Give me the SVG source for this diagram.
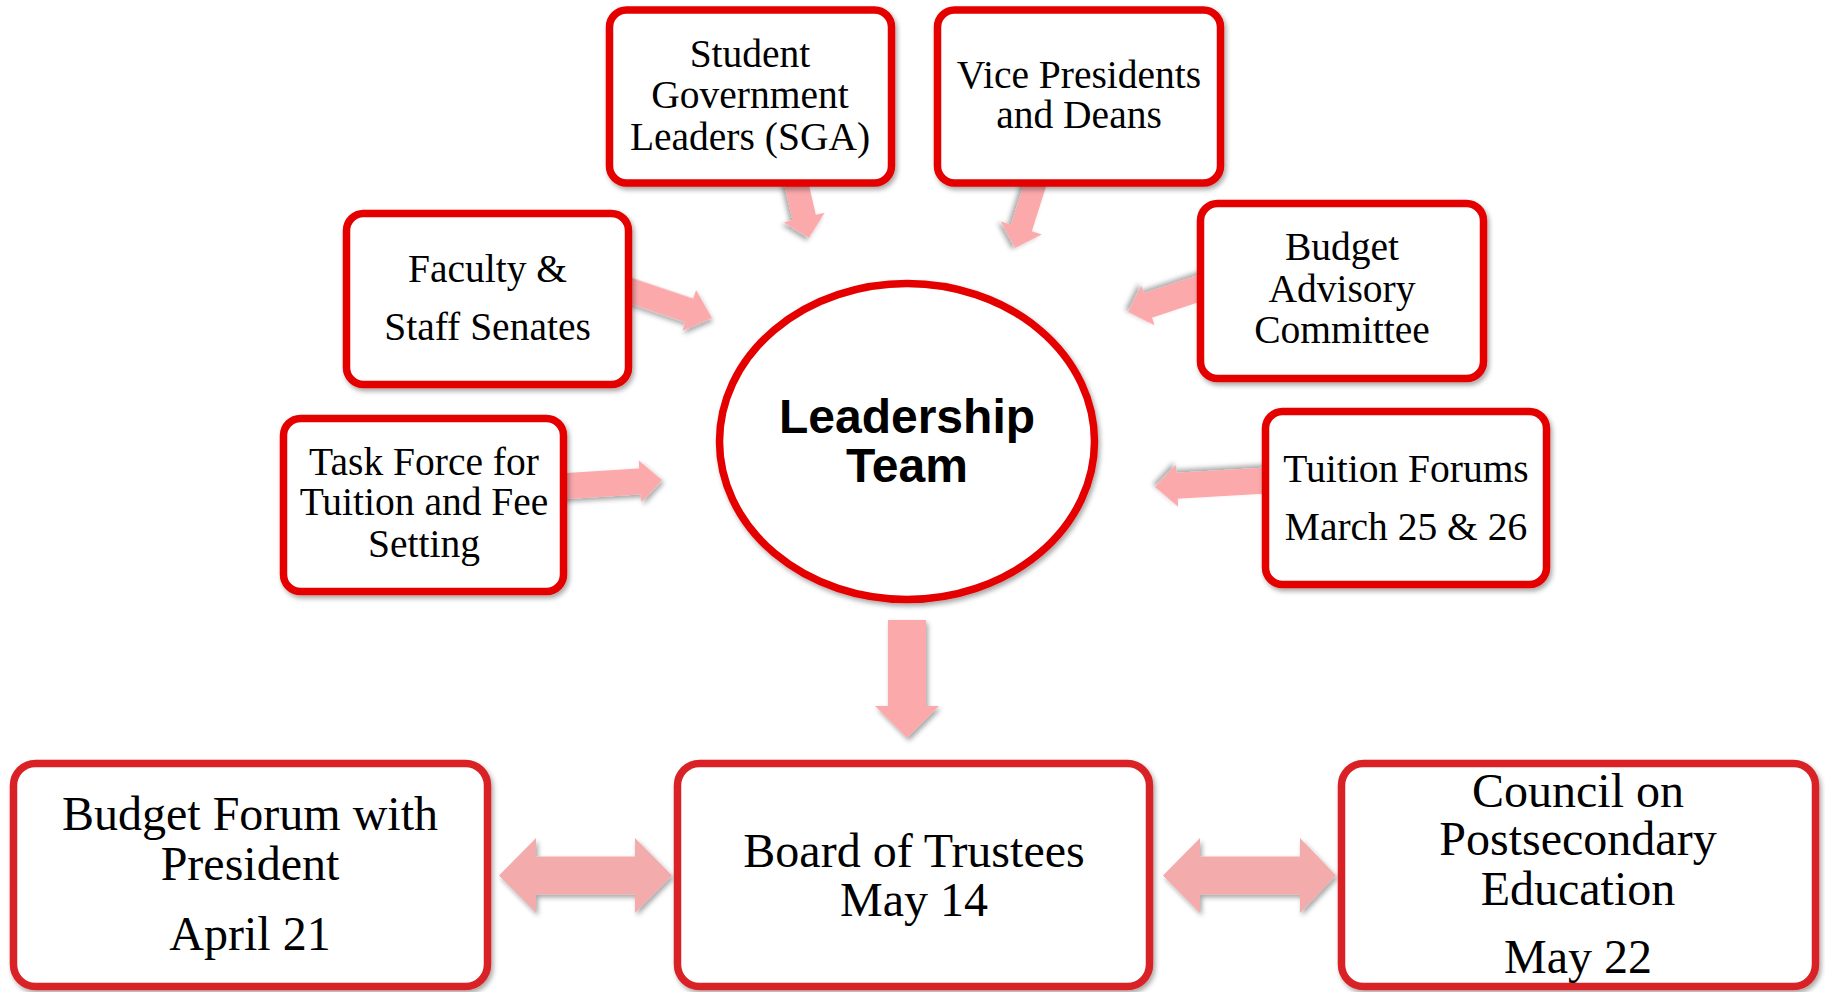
<svg xmlns="http://www.w3.org/2000/svg" width="1825" height="992" viewBox="0 0 1825 992">
<defs>
<filter id="sh" x="-20%" y="-20%" width="140%" height="140%">
<feDropShadow dx="2" dy="3" stdDeviation="2.5" flood-color="#000" flood-opacity="0.35"/>
</filter>
<style>
.box{fill:#fff;stroke:#E50000;stroke-width:7.5;filter:url(#sh)}
.bbox{fill:#fff;stroke:#D92326;stroke-width:7.5;filter:url(#sh)}
.arr{fill:#FBA9AB;filter:url(#sh)}
.darr{fill:#F4ABAB;filter:url(#sh)}
.t{font-family:"Liberation Serif","Times New Roman",serif;font-size:39.5px;fill:#000;text-anchor:middle}
.tb{font-family:"Liberation Serif","Times New Roman",serif;font-size:48px;fill:#000;text-anchor:middle}
.lt{font-family:"Liberation Sans",Arial,sans-serif;font-weight:bold;font-size:48px;fill:#000;text-anchor:middle}
</style>
</defs>
<rect width="1825" height="992" fill="#fff"/>
<g id="connectors">
<polygon class="arr" transform="translate(809,238) rotate(76.8)" points="-60,-12 -21,-12 -21,-21 0,0 -21,21 -21,12 -60,12"/>
<polygon class="arr" transform="translate(1015,248) rotate(107.6)" points="-68,-11 -21,-11 -21,-21.5 0,0 -21,21.5 -21,11 -68,11"/>
<polygon class="arr" transform="translate(712,318) rotate(18.6)" points="-95,-12.5 -24,-12.5 -24,-21.5 0,0 -24,21.5 -24,12.5 -95,12.5"/>
<polygon class="arr" transform="translate(662,480) rotate(-3.6)" points="-105,-13 -22,-13 -22,-21 0,0 -22,21 -22,13 -105,13"/>
<polygon class="arr" transform="translate(1128,312) rotate(161.6)" points="-85,-13 -21,-13 -21,-21 0,0 -21,21 -21,13 -85,13"/>
<polygon class="arr" transform="translate(1155,487) rotate(176.7)" points="-115,-13 -22,-13 -22,-21 0,0 -22,21 -22,13 -115,13"/>
<polygon class="arr" points="888,620 926,620 926,706 939,706 907,738 875,706 888,706"/>
<polygon class="darr" points="499,875.5 536,838 536,856.5 635,856.5 635,838 672,875.5 635,913 635,894.5 536,894.5 536,913"/>
<polygon class="darr" points="1163,875.5 1200,838 1200,856.5 1300,856.5 1300,838 1336,875.5 1300,913 1300,894.5 1200,894.5 1200,913"/>
</g>
<g id="sga">
<rect class="box" x="609.5" y="10" width="282" height="173" rx="17"/>
<text class="t" x="750" y="67">Student</text>
<text class="t" x="750" y="108">Government</text>
<text class="t" x="750" y="150">Leaders (SGA)</text>
</g>
<g id="vp">
<rect class="box" x="937.5" y="10" width="283" height="173" rx="17"/>
<text class="t" x="1079" y="88">Vice Presidents</text>
<text class="t" x="1079" y="128">and Deans</text>
</g>
<g id="faculty">
<rect class="box" x="346.5" y="213.5" width="282" height="171" rx="17"/>
<text class="t" x="487.5" y="282">Faculty &amp;</text>
<text class="t" x="487.5" y="340">Staff Senates</text>
</g>
<g id="budget-advisory">
<rect class="box" x="1200.5" y="203.5" width="283" height="175" rx="17"/>
<text class="t" x="1342" y="260">Budget</text>
<text class="t" x="1342" y="302">Advisory</text>
<text class="t" x="1342" y="343">Committee</text>
</g>
<g id="task-force">
<rect class="box" x="283.5" y="418.5" width="280" height="173" rx="17"/>
<text class="t" x="424" y="475">Task Force for</text>
<text class="t" x="424" y="515">Tuition and Fee</text>
<text class="t" x="424" y="557">Setting</text>
</g>
<g id="tuition-forums">
<rect class="box" x="1265.5" y="411.5" width="281" height="173" rx="17"/>
<text class="t" x="1406" y="482">Tuition Forums</text>
<text class="t" x="1406" y="540">March 25 &amp; 26</text>
</g>
<g id="leadership">
<ellipse cx="907" cy="441.5" rx="187.5" ry="158" fill="#fff" stroke="#E50000" stroke-width="7.5" filter="url(#sh)"/>
<text class="lt" x="907" y="433">Leadership</text>
<text class="lt" x="907" y="482">Team</text>
</g>
<g id="budget-forum">
<rect class="bbox" x="13.5" y="763.5" width="474" height="223" rx="22"/>
<text class="tb" x="250" y="830">Budget Forum with</text>
<text class="tb" x="250" y="880">President</text>
<text class="tb" x="250" y="950">April 21</text>
</g>
<g id="board">
<rect class="bbox" x="677.5" y="763.5" width="472" height="223" rx="22"/>
<text class="tb" x="914" y="867">Board of Trustees</text>
<text class="tb" x="914" y="916">May 14</text>
</g>
<g id="council">
<rect class="bbox" x="1341.5" y="763.5" width="474" height="223" rx="22"/>
<text class="tb" x="1578" y="807">Council on</text>
<text class="tb" x="1578" y="855">Postsecondary</text>
<text class="tb" x="1578" y="905">Education</text>
<text class="tb" x="1578" y="973">May 22</text>
</g>
</svg>
